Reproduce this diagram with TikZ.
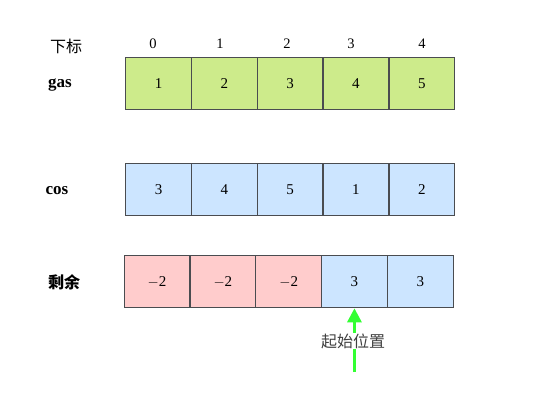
\documentclass[tikz,border=0pt]{standalone}
\usepackage{fontspec}
\setmainfont{Liberation Serif}
\newfontfamily\cjk{Noto Sans CJK SC}
\usetikzlibrary{arrows.meta}
\definecolor{gfill}{HTML}{CDEB8B}
\definecolor{bfill}{HTML}{CCE5FF}
\definecolor{rfill}{HTML}{FFCCCC}
\definecolor{bord}{HTML}{4A4C50}
\definecolor{arr}{HTML}{33FF33}
\begin{document}
\begin{tikzpicture}[x=1pt,y=-1pt,
  cell/.style={draw=bord,line width=1.3pt,minimum width=65.8pt,minimum height=52pt,inner sep=0pt,anchor=north west,font=\fontsize{15}{15}\selectfont},
  rowlab/.style={font=\fontsize{17}{17}\selectfont\bfseries},
  cjklab/.style={font=\cjk\fontsize{16}{16}\selectfont},
  idx/.style={font=\fontsize{14.5}{14.5}\selectfont}]
\useasboundingbox (0,0) rectangle (554,402);
\fill[white] (0,0) rectangle (554,402);
% row labels
\node[cjklab] (lidx) at (66,46) {下标};
\node[rowlab] (lgas) at (60,85) {gas};
\node[rowlab] (lcos) at (57,191) {cos};
\node[cjklab,font=\cjk\fontsize{16}{16}\selectfont\bfseries] (lrem) at (64,282) {剩余};
% indices
\node[idx] (i0) at (153,44) {0};
\node[idx] (i1) at (220,44) {1};
\node[idx] (i2) at (287,44) {2};
\node[idx] (i3) at (351,44) {3};
\node[idx] (i4) at (422,44) {4};
% gas
\node[cell,fill=gfill] (g0) at (125,57) {1};
\node[cell,fill=gfill] (g1) at (190.8,57) {2};
\node[cell,fill=gfill] (g2) at (256.6,57) {3};
\node[cell,fill=gfill] (g3) at (322.4,57) {4};
\node[cell,fill=gfill] (g4) at (388.2,57) {5};
% cos
\node[cell,fill=bfill] (c0) at (125,163) {3};
\node[cell,fill=bfill] (c1) at (190.8,163) {4};
\node[cell,fill=bfill] (c2) at (256.6,163) {5};
\node[cell,fill=bfill] (c3) at (322.4,163) {1};
\node[cell,fill=bfill] (c4) at (388.2,163) {2};
% remain
\node[cell,fill=rfill] (r0) at (123.5,255) {$-$2};
\node[cell,fill=rfill] (r1) at (189.3,255) {$-$2};
\node[cell,fill=rfill] (r2) at (255.1,255) {$-$2};
\node[cell,fill=bfill] (r3) at (320.9,255) {3};
\node[cell,fill=bfill] (r4) at (386.7,255) {3};
% arrow
\coordinate (astart) at (r3.south |- 0,372);
\draw[arr,line width=3pt,-{Triangle[length=14pt,width=14pt]}] (astart) -- (r3.south);
\node[fill=white,inner sep=1pt,cjklab,text=black!75] (alab) at (353,341) {起始位置};
\end{tikzpicture}
\end{document}
